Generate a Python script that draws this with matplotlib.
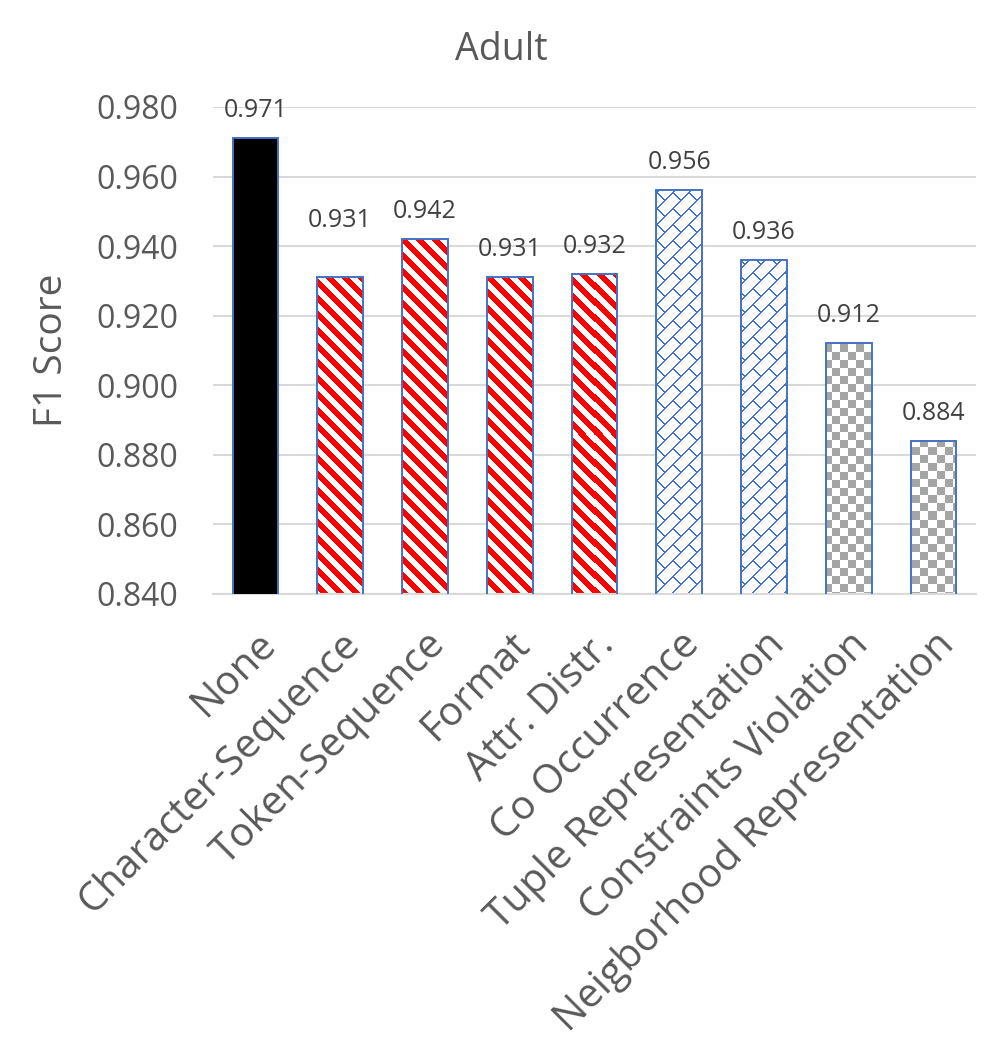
import numpy as np
import matplotlib
matplotlib.use("Agg")
import matplotlib.pyplot as plt

categories = ["None", "Character-Sequence", "Token-Sequence", "Format", "Attr. Distr.",
              "Co Occurrence", "Tuple Representation", "Constraints Violation",
              "Neigborhood Representation"]
scores = [0.971, 0.931, 0.942, 0.931, 0.932, 0.956, 0.936, 0.912, 0.884]
patterns = ["solid", "stripe", "stripe", "stripe", "stripe", "brick", "brick", "checker", "checker"]
yticks = [0.840, 0.860, 0.880, 0.900, 0.920, 0.940, 0.960, 0.980]
# the Character-Sequence label sits higher in the original chart
label_lift = [0, 21, 0, 0, 0, 0, 0, 0, 0]

plt.rcParams['font.family'] = ['Open Sans', 'DejaVu Sans']
text_col = "#595959"
edge_col = "#4472C4"
y_lo, y_hi = 0.84, 0.98

fig = plt.figure(figsize=(10.03, 10.61), dpi=100)
ax = fig.add_axes([0.2124, 0.4402, 0.7606, 0.4590])

x = np.arange(len(categories))
bars = ax.bar(x, scores, width=0.54, color="white", edgecolor=edge_col, linewidth=1.4, zorder=3)
for b, p in zip(bars, patterns):
    if p == "solid":
        b.set_facecolor("black")
    else:
        b.set_facecolor("none")

ax.set_xlim(-0.5, len(categories) - 0.5)
ax.set_ylim(y_lo, y_hi)
ax.set_yticks(yticks)
ax.set_yticklabels([f"{v:.3f}" for v in yticks], fontsize=23, color=text_col)
ax.set_xticks(x)
ax.set_xticklabels(categories, rotation=45, ha="right", rotation_mode="anchor",
                   fontsize=29, color=text_col)
ax.tick_params(axis="y", length=0, pad=25)
ax.tick_params(axis="x", length=0, pad=22)
ax.yaxis.grid(True, color="#d9d9d9", linewidth=1.5, zorder=0)
ax.set_axisbelow(True)
for s in ["top", "right", "left"]:
    ax.spines[s].set_visible(False)
ax.spines["bottom"].set_color("#d9d9d9")
ax.spines["bottom"].set_linewidth(1.5)

ax.set_ylabel("F1 Score", fontsize=28, color=text_col, labelpad=18)
fig.text(0.5, 1 - 50 / 1061, "Adult", fontsize=27, color=text_col, ha="center", va="center")

for xi, v, lift in zip(x, scores, label_lift):
    ax.annotate(f"{v:.3f}", (xi, v), xytext=(0, 11 + lift), textcoords="offset points",
                ha="center", va="bottom", fontsize=18, color="#404040")


# fill patterned bars with pixel-level images clipped to the bar
def make_pattern(kind, cols, rows):
    X, R = np.meshgrid(cols, rows)
    img = np.ones((len(rows), len(cols), 3))
    if kind == "stripe":
        m = np.mod(X - R, 16) < 7.5
        img[m] = [1.0, 0.0, 0.0]
    elif kind == "checker":
        m = (np.floor(X / 8) + np.floor(R / 8)) % 2 == 0
        img[m] = [0.65, 0.65, 0.65]
    elif kind == "brick":
        u = X + R
        v = X - R
        band = np.floor(u / 16)
        line = np.mod(u, 16) < 1.6
        off = np.where(band % 2 == 0, 0, 16)
        seg = np.mod(v + off, 32) < 1.6
        img[line | seg] = [0.27, 0.45, 0.77]
    return img


fig.canvas.draw()
H = fig.bbox.height
trans = ax.transData
for b, p, xi, v in zip(bars, patterns, x, scores):
    if p == "solid":
        continue
    bx0, bx1 = b.get_x(), b.get_x() + b.get_width()
    (px0, py0), (px1, py1) = trans.transform([(bx0, y_lo), (bx1, v)])
    cols = np.arange(int(round(px0)), int(round(px1)))
    rows = np.arange(int(round(H - py1)), int(round(H - py0)))
    img = make_pattern(p, cols, rows)
    ax.imshow(img, extent=(bx0, bx1, y_lo, v), origin="upper",
              interpolation="nearest", aspect="auto", zorder=2)

ax.set_xlim(-0.5, len(categories) - 0.5)
ax.set_ylim(y_lo, y_hi)

fig.savefig("out.png", dpi=100)
